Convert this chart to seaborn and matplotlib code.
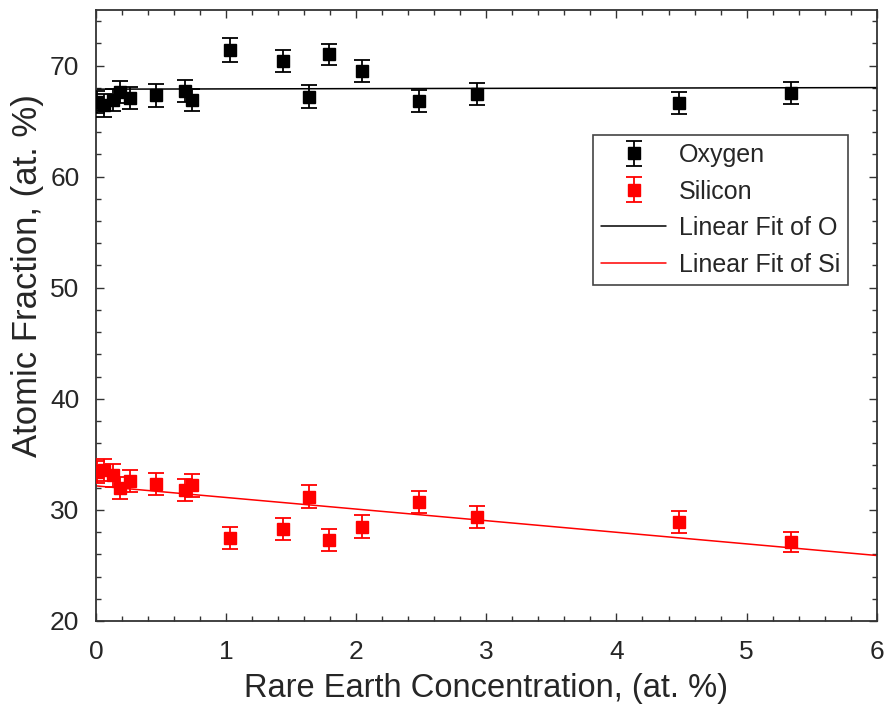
import numpy as np
import pandas as pd
import matplotlib
matplotlib.use("Agg")
import matplotlib.pyplot as plt
from matplotlib.ticker import MultipleLocator
from matplotlib.lines import Line2D
import seaborn as sns

# Rare earth concentration (at. %) for each sample
concentration = [0.01, 0.06, 0.13, 0.18, 0.26, 0.46, 0.68, 0.74, 1.03, 1.44,
                 1.64, 1.79, 2.04, 2.48, 2.93, 4.48, 5.34]

# Measured atomic fractions (at. %)
oxygen = [66.7, 66.4, 66.9, 67.6, 67.1, 67.3, 67.7, 66.9, 71.4, 70.4,
          67.2, 71.0, 69.5, 66.8, 67.4, 66.6, 67.5]
silicon = [33.4, 33.6, 33.1, 32.0, 32.6, 32.3, 31.8, 32.2, 27.5, 28.3,
           31.2, 27.3, 28.5, 30.7, 29.4, 28.9, 27.1]

# Measurement uncertainties (at. %)
oxygen_err = [1.0, 1.0, 1.0, 1.0, 1.0, 1.0, 1.0, 1.0, 1.05, 0.97,
              1.05, 0.95, 1.0, 1.0, 1.0, 1.0, 1.0]
silicon_err = [1.0, 1.0, 1.0, 1.0, 1.0, 1.0, 1.0, 1.0, 1.0, 1.0,
               1.0, 1.0, 1.0, 0.97, 0.99, 1.02, 0.93]

x_fit_range = [0.0, 6.0]

sns.set_theme(style="ticks")
plt.rcParams["font.family"] = ["Liberation Sans", "DejaVu Sans"]
text_color = "#262626"
plt.rcParams.update({
    "text.color": text_color,
    "axes.labelcolor": text_color,
    "xtick.color": "#333333",
    "ytick.color": "#333333",
    "xtick.labelcolor": text_color,
    "ytick.labelcolor": text_color,
})

fig = plt.figure(figsize=(8.9, 7.11), dpi=100)
ax = fig.add_axes([0.108, 0.1266, 0.877, 0.8594])

df = pd.DataFrame({"x": concentration, "O": oxygen, "Si": silicon})

# Data points with error bars
eb_o = ax.errorbar(df["x"], df["O"], yerr=oxygen_err, fmt="s", color="black",
                   ms=8.5, capsize=6, elinewidth=1.3, capthick=1.3, zorder=3)
eb_s = ax.errorbar(df["x"], df["Si"], yerr=silicon_err, fmt="s", color="red",
                   ms=8.5, capsize=6, elinewidth=1.3, capthick=1.3, zorder=3)

# Least-squares linear fits
xf = np.array(x_fit_range)
po = np.polyfit(df["x"], df["O"], 1)
ps = np.polyfit(df["x"], df["Si"], 1)
fit_df = pd.DataFrame({"x": xf, "O": np.polyval(po, xf), "Si": np.polyval(ps, xf)})
sns.lineplot(data=fit_df, x="x", y="O", color="black", lw=1.1, ax=ax, zorder=2)
sns.lineplot(data=fit_df, x="x", y="Si", color="red", lw=1.1, ax=ax, zorder=2)

ax.set_xlim(0, 6)
ax.set_ylim(20, 75)
ax.xaxis.set_major_locator(MultipleLocator(1))
ax.xaxis.set_minor_locator(MultipleLocator(0.2))
ax.yaxis.set_major_locator(MultipleLocator(10))
ax.yaxis.set_minor_locator(MultipleLocator(2))
ax.tick_params(which="both", direction="in", top=True, right=True, labelsize=19, width=1.0)
ax.tick_params(which="major", length=6)
ax.tick_params(which="minor", length=3.5)
ax.tick_params(axis="x", pad=14)
ax.tick_params(axis="y", pad=12)
for sp in ax.spines.values():
    sp.set_color("#333333")
    sp.set_linewidth(1.3)

ax.set_xlabel("Rare Earth Concentration, (at. %)", fontsize=23.5, labelpad=6)
ax.set_ylabel("Atomic Fraction, (at. %)", fontsize=25)
ax.yaxis.set_label_coords(-0.067, 0.565)

handles = [eb_o, eb_s,
           Line2D([], [], color="black", lw=1.1),
           Line2D([], [], color="red", lw=1.1)]
labels = ["Oxygen", "Silicon", "Linear Fit of O", "Linear Fit of Si"]
leg = ax.legend(handles, labels, loc="upper right", bbox_to_anchor=(0.963, 0.795),
                borderaxespad=0, fontsize=18, fancybox=False, frameon=True, framealpha=1,
                edgecolor="#444444", handlelength=2.6, labelspacing=0.5,
                handletextpad=0.5, borderpad=0.32)
leg.get_frame().set_linewidth(1.2)

fig.savefig("out.png", dpi=100)
